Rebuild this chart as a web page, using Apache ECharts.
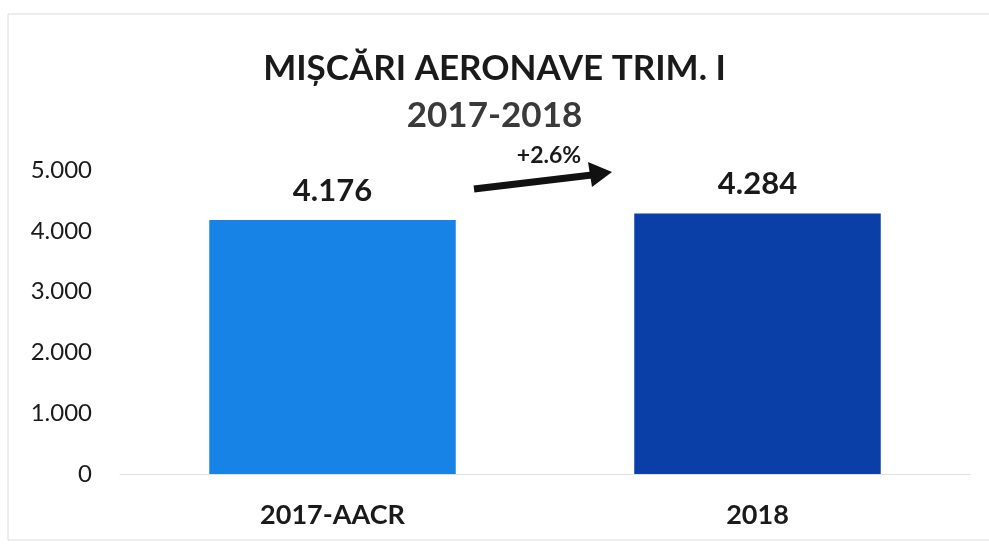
<!DOCTYPE html>
<html>
<head>
<meta charset="utf-8">
<script src="https://cdn.jsdelivr.net/npm/echarts@6/dist/echarts.min.js"></script>
<style>
html,body{margin:0;padding:0;background:#fff;}
#c{width:989px;height:545px;}
</style>
</head>
<body>
<div id="c"></div>
<script>
var categories = ['2017-AACR', '2018'];
var values = [4176, 4284];
var barColors = ['#1883E6', '#0B3FA8'];
var yTicks = [0, 1000, 2000, 3000, 4000, 5000];
var titleText = 'MIȘCĂRI AERONAVE TRIM. I';
var subtitleText = '2017-2018';
var changeText = '+2.6%';

var FONT = 'Lato, "Open Sans", sans-serif';
function fmt(v){ return String(v).replace(/\B(?=(\d{3})+(?!\d))/g, '.'); }

var chart = echarts.init(document.getElementById('c'), null, {renderer:'canvas'});
chart.setOption({
  backgroundColor: '#ffffff',
  animation: false,
  title: [
    {text: titleText, left: 'center', top: 46, textStyle:{fontFamily:FONT, fontSize:35, fontWeight:'bold', color:'#1a1a1a'}},
    {text: subtitleText, left: 'center', top: 93, textStyle:{fontFamily:FONT, fontSize:35, fontWeight:'bold', color:'#3a3a3a'}}
  ],
  grid: {left: 120, right: 19, top: 170, bottom: 71, containLabel: false},
  xAxis: {
    type: 'category',
    data: categories,
    axisLine: {show:true, lineStyle:{color:'#e0e0e0', width:1}},
    axisTick: {show:false},
    axisLabel: {fontFamily:FONT, fontSize:27, fontWeight:'bold', color:'#1a1a1a', margin:28}
  },
  yAxis: {
    type: 'value',
    min: yTicks[0], max: yTicks[yTicks.length-1], interval: 1000,
    splitLine: {show:false},
    axisLine: {show:false},
    axisTick: {show:false},
    axisLabel: {fontFamily:FONT, fontSize:24, color:'#1a1a1a', margin:28, formatter: function(v){return fmt(v);}}
  },
  series: [{
    type: 'bar',
    barWidth: '58%',
    data: values.map(function(v,i){ return {value:v, itemStyle:{color:barColors[i]}}; }),
    label: {show:true, position:'top', distance:14, fontFamily:FONT, fontSize:31, fontWeight:'bold', color:'#1a1a1a',
      formatter: function(p){ return fmt(p.value); }}
  }],
  graphic: [
    {type:'rect', shape:{x:8, y:14, width:990, height:526}, style:{fill:'none', stroke:'#dcdcdc', lineWidth:1}, silent:true},
    {type:'line', shape:{x1:474, y1:189, x2:592, y2:175}, style:{stroke:'#111', lineWidth:7}},
    {type:'polygon', shape:{points:[[612,172],[588,162],[592,187]]}, style:{fill:'#111'}},
    {type:'text', x:549, y:156, style:{text:changeText, fontFamily:FONT, fontSize:23, fontWeight:'bold', fill:'#1a1a1a', align:'center', verticalAlign:'middle'}}
  ]
});
</script>
</body>
</html>
